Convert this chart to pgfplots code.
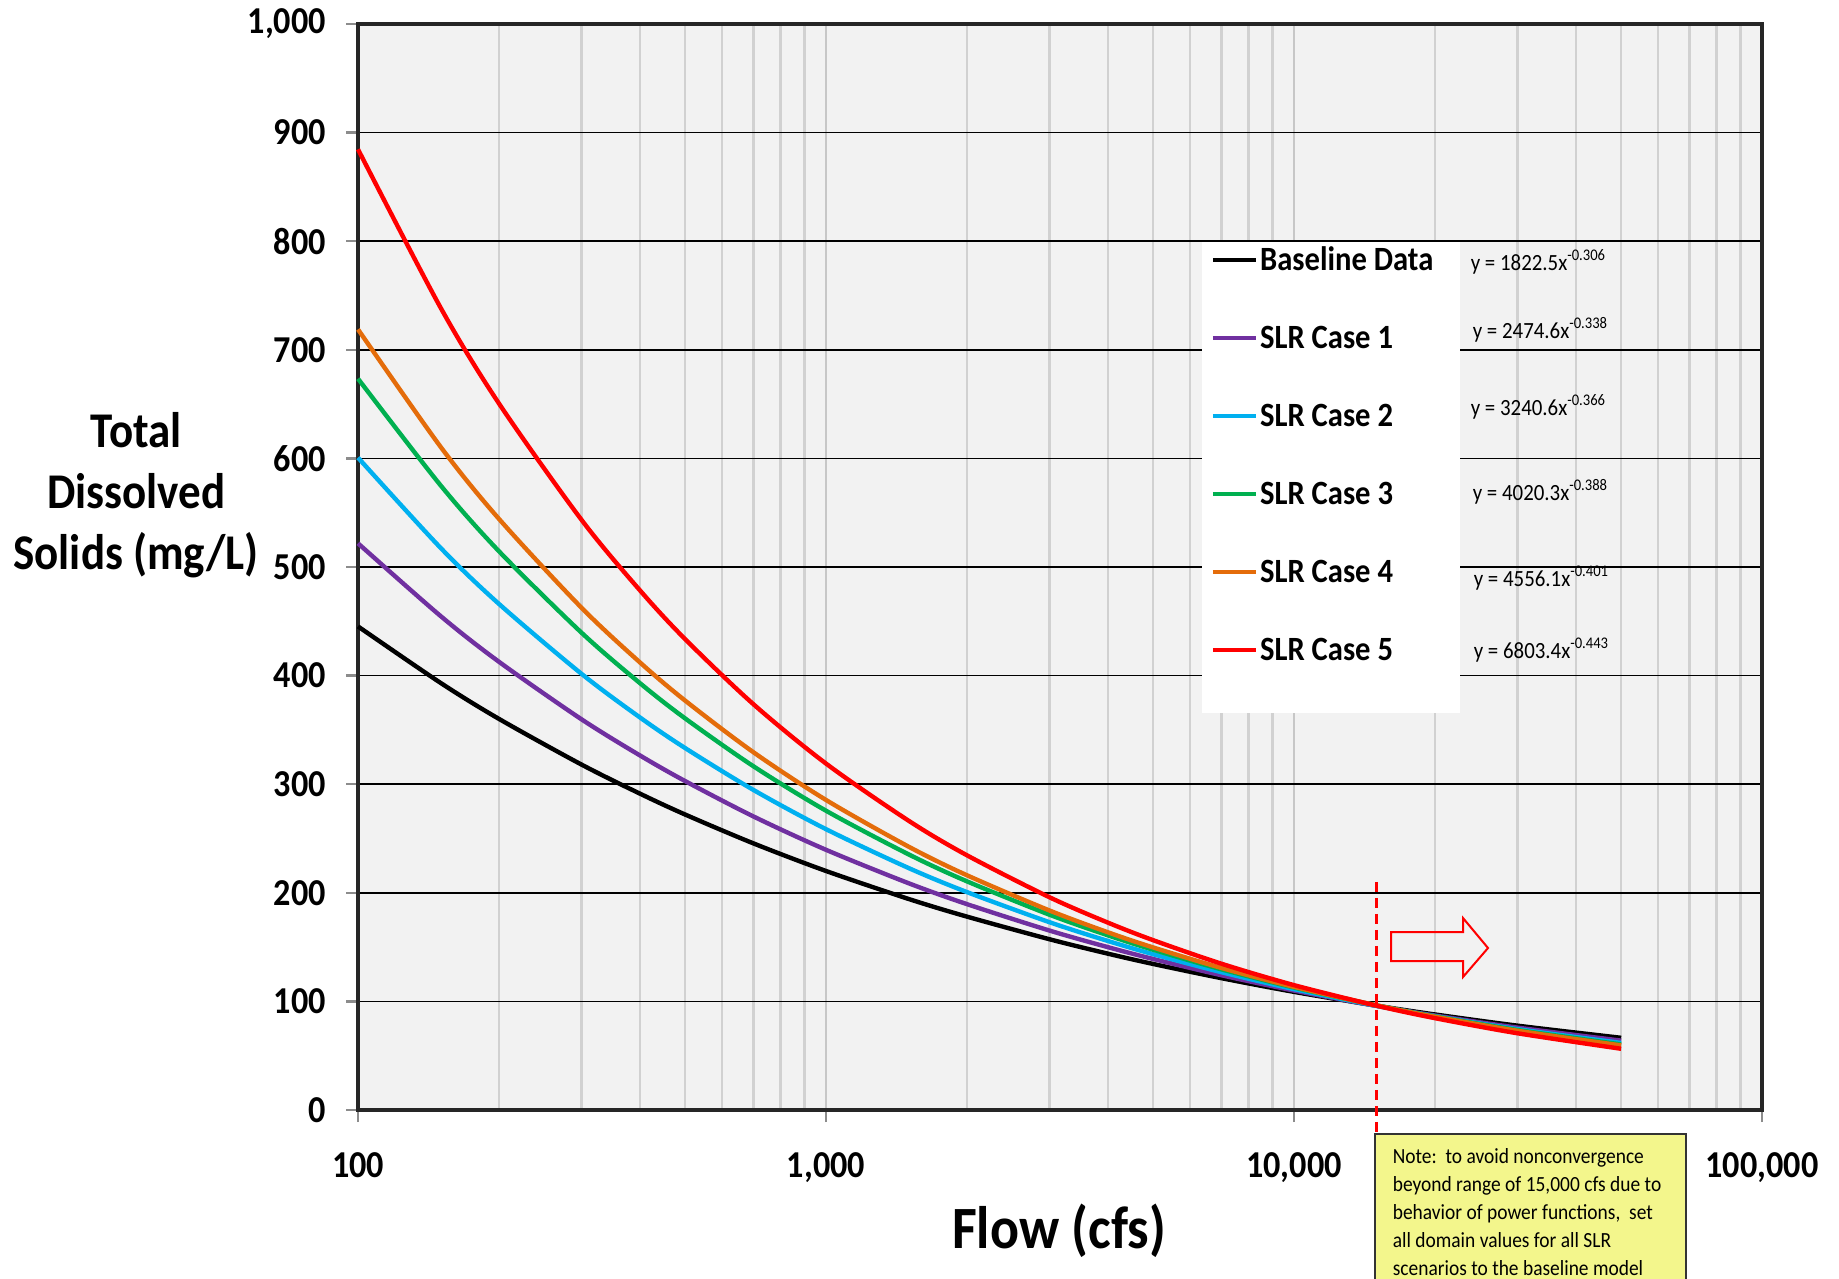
\documentclass[border=0pt]{standalone}
\usepackage{fontspec}
\setmainfont{Carlito}[FakeStretch=0.9]
\usepackage{pgfplots}
\pgfplotsset{compat=1.18}

\definecolor{slrpurple}{HTML}{7030A0}
\definecolor{slrblue}{HTML}{00B0F0}
\definecolor{slrgreen}{HTML}{00B050}
\definecolor{slrorange}{HTML}{E46C0A}
\definecolor{slrred}{HTML}{FF0000}
\definecolor{notefill}{HTML}{F3F68C}

\begin{document}
\begin{tikzpicture}
\begin{axis}[
  scale only axis, width=351pt, height=271.5pt,
  xmode=log, xmin=100, xmax=100000, ymin=0, ymax=1000,
  clip=false,
  axis background/.style={fill=gray!10},
  axis line style={line width=1pt, black!85},
  xtick={100,1000,10000,100000},
  xticklabels={100,{1,000},{10,000},{100,000}},
  ytick={0,100,200,300,400,500,600,700,800,900,1000},
  yticklabels={0,100,200,300,400,500,600,700,800,900,{1,000}},
  tick label style={font=\bfseries\fontsize{9.5}{11}\selectfont},
  xticklabel style={yshift=-4pt},
  yticklabel style={xshift=-1.5pt},
  tick align=outside, tick pos=left,
  major tick length=3pt, minor tick length=0pt,
  major tick style={black!45, line width=0.6pt},
  xmajorgrids, xminorgrids, ymajorgrids,
  major x grid style={black!22, line width=0.6pt},
  minor x grid style={black!18, line width=0.6pt},
  major y grid style={black, line width=0.4pt},
  xlabel={Flow (cfs)},
  ylabel={Total\\Dissolved\\Solids (mg/L)},
  every axis x label/.style={at={(rel axis cs:0.4993,-0.1114)}, anchor=center,
    font=\bfseries\fontsize{15}{18}\selectfont},
  every axis y label/.style={at={(rel axis cs:-0.158,0.5663)}, anchor=center,
    align=center, font=\bfseries\fontsize{12.5}{15.25}\selectfont},
  legend style={at={(rel axis cs:0.6068,0.7993)}, anchor=north west,
    draw=none, fill=none, inner sep=0pt, row sep=10.5pt,
    font=\bfseries\fontsize{8.5}{10}\selectfont,
    nodes={inner sep=0.5pt, text height=6.5pt, text depth=1.5pt}},
  legend cell align=left,
  legend image code/.code={\draw[#1, line width=1.1pt] (0pt,0.25pt) -- (10.75pt,0.25pt);},
]
% white panel behind the legend
\fill[white] (rel axis cs:0.6011,0.3656) rectangle (rel axis cs:0.7849,0.7993);

\addplot[black, line width=1.1pt, smooth] coordinates {
  (100,445.3)(150,393.4)(200,360.2)(300,318.2)(400,291.4)(500,272.1)(700,245.5)
  (1000,220.1)(1500,194.4)(2000,178.1)(3000,157.3)(4000,144.0)(5000,134.5)(7000,121.4)
  (10000,108.8)(15000,96.1)(20000,88.0)(30000,77.7)(50000,66.5)
};
\addlegendentry{Baseline Data}
\addplot[slrpurple, line width=1.1pt, smooth] coordinates {
  (100,521.8)(150,455.0)(200,412.8)(300,359.9)(400,326.6)(500,302.9)(700,270.3)
  (1000,239.6)(1500,208.9)(2000,189.6)(3000,165.3)(4000,150.0)(5000,139.1)(7000,124.1)
  (10000,110.0)(15000,95.9)(20000,87.0)(30000,75.9)(50000,63.9)
};
\addlegendentry{SLR Case 1}
\addplot[slrblue, line width=1.1pt, smooth] coordinates {
  (100,600.7)(150,517.8)(200,466.1)(300,401.8)(400,361.6)(500,333.3)(700,294.7)
  (1000,258.6)(1500,222.9)(2000,200.7)(3000,173.0)(4000,155.7)(5000,143.5)(7000,126.9)
  (10000,111.3)(15000,96.0)(20000,86.4)(30000,74.5)(50000,61.8)
};
\addlegendentry{SLR Case 2}
\addplot[slrgreen, line width=1.1pt, smooth] coordinates {
  (100,673.4)(150,575.4)(200,514.6)(300,439.7)(400,393.2)(500,360.6)(700,316.5)
  (1000,275.6)(1500,235.5)(2000,210.6)(3000,179.9)(4000,160.9)(5000,147.6)(7000,129.5)
  (10000,112.8)(15000,96.4)(20000,86.2)(30000,73.7)(50000,60.4)
};
\addlegendentry{SLR Case 3}
\addplot[slrorange, line width=1.1pt, smooth] coordinates {
  (100,718.8)(150,610.9)(200,544.4)(300,462.7)(400,412.3)(500,377.0)(700,329.4)
  (1000,285.5)(1500,242.6)(2000,216.2)(3000,183.8)(4000,163.7)(5000,149.7)(7000,130.8)
  (10000,113.4)(15000,96.4)(20000,85.9)(30000,73.0)(50000,59.5)
};
\addlegendentry{SLR Case 4}
\addplot[slrred, line width=1.1pt, smooth] coordinates {
  (100,884.6)(150,739.1)(200,650.7)(300,543.7)(400,478.7)(500,433.6)(700,373.6)
  (1000,319.0)(1500,266.5)(2000,234.6)(3000,196.0)(4000,172.6)(5000,156.4)(7000,134.7)
  (10000,115.0)(15000,96.1)(20000,84.6)(30000,70.7)(50000,56.4)
};
\addlegendentry{SLR Case 5}

% 15,000 cfs cut-off
\draw[slrred, line width=0.6pt, dash pattern=on 2.5pt off 1.5pt]
  (axis cs:15000,210) -- (axis cs:15000,-21);
\end{axis}

% fitted power functions
\begin{scope}[every node/.style={anchor=west, inner sep=0pt, font=\fontsize{5.8}{7}\selectfont}]
\node at (278pt,212pt) {y = 1822.5x\textsuperscript{-0.306}};
\node at (278.5pt,195pt) {y = 2474.6x\textsuperscript{-0.338}};
\node at (278pt,175.75pt) {y = 3240.6x\textsuperscript{-0.366}};
\node at (278.5pt,154.5pt) {y = 4020.3x\textsuperscript{-0.388}};
\node at (278.75pt,133pt) {y = 4556.1x\textsuperscript{-0.401}};
\node at (278.75pt,115pt) {y = 6803.4x\textsuperscript{-0.443}};
\end{scope}

% arrow
\draw[slrred, line width=0.5pt] (258.25pt,44.5pt) -- (276.25pt,44.5pt) -- (276.25pt,48pt)
  -- (282.5pt,40.5pt) -- (276.25pt,33.25pt) -- (276.25pt,37.25pt) -- (258.25pt,37.25pt) -- cycle;

% note box
\draw[fill=notefill, draw=black!80, line width=0.4pt] (254.25pt,-6pt) rectangle (332pt,-60pt);
\node[anchor=north west, inner sep=0pt, align=left, font=\fontsize{5.4}{7}\selectfont]
  at (258.5pt,-9.5pt) {Note:\ \ to avoid nonconvergence\\beyond range of 15,000 cfs due to\\behavior of power functions,\ \ set\\all domain values for all SLR\\scenarios to the baseline model};

\pgfresetboundingbox
\useasboundingbox (-89.5pt,-42pt) rectangle (370.25pt,277.5pt);
\end{tikzpicture}
\end{document}
